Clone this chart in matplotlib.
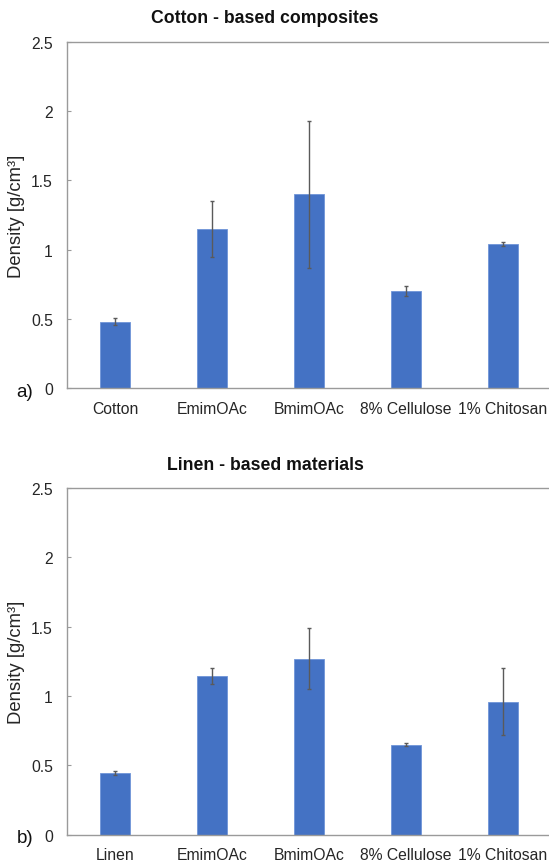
import matplotlib
matplotlib.use("Agg")
import matplotlib.pyplot as plt
import numpy as np

plt.rcParams['font.family'] = ['Liberation Sans', 'DejaVu Sans']

cotton_labels = ["Cotton", "EmimOAc", "BmimOAc", "8% Cellulose", "1% Chitosan"]
cotton_values = [0.48, 1.15, 1.40, 0.70, 1.04]
cotton_errors = [0.025, 0.20, 0.53, 0.035, 0.015]

linen_labels = ["Linen", "EmimOAc", "BmimOAc", "8% Cellulose", "1% Chitosan"]
linen_values = [0.445, 1.145, 1.27, 0.65, 0.96]
linen_errors = [0.012, 0.058, 0.22, 0.01, 0.24]

yticks = [0, 0.5, 1, 1.5, 2, 2.5]
ytick_labels = ["0", "0.5", "1", "1.5", "2", "2.5"]

bar_color = "#4472C4"
spine_color = "#9a9a9a"

fig = plt.figure(figsize=(5.49, 8.62), dpi=100)

panels = [
    (cotton_labels, cotton_values, cotton_errors, "Cotton - based composites", "a)", 0.5484),
    (linen_labels, linen_values, linen_errors, "Linen - based materials", "b)", 0.0305),
]

for labels, values, errors, title, tag, bottom in panels:
    ax = fig.add_axes([0.1215, bottom, 0.8822, 0.402])
    x = np.arange(len(labels))
    ax.bar(x, values, width=0.31, color=bar_color, edgecolor="#6f95d8", linewidth=0.6, zorder=2)
    ax.errorbar(x, values, yerr=errors, fmt="none", ecolor="#5a5a5a",
                elinewidth=1.0, capsize=1.2, capthick=1.0, zorder=3)
    ax.set_xlim(-0.5, len(labels) - 0.5)
    ax.set_ylim(0, 2.5)
    ax.set_yticks(yticks)
    ax.set_yticklabels(ytick_labels)
    ax.set_xticks(x)
    ax.set_xticklabels(labels)
    ax.tick_params(axis="y", direction="in", length=3, width=0.8, color=spine_color,
                   labelsize=11.3, pad=10, labelcolor="#262626")
    ax.tick_params(axis="x", length=0, labelsize=11.3, pad=9, labelcolor="#262626")
    for s in ax.spines.values():
        s.set_color(spine_color)
        s.set_linewidth(1.0)
    ax.set_ylabel("Density [g/cm³]", fontsize=13.3, color="#262626", labelpad=4)
    top_px = (1 - (bottom + 0.402)) * 862
    fig.text(265 / 549, 1 - (top_px - 24) / 862, title, ha="center", va="center",
             fontsize=12.7, fontweight="bold", color="#111111")
    fig.text(25 / 549, bottom - 3 / 862, tag, ha="center", va="center",
             fontsize=13.5, color="#111111")

fig.savefig("out.png", dpi=100)
